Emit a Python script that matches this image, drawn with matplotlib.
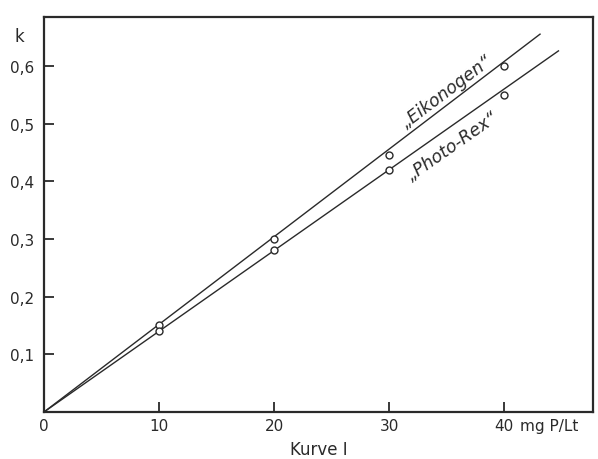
import numpy as np
import matplotlib.pyplot as plt

# Werte
konz = [10, 20, 30, 40]                      # mg P/Lt
k_eikonogen = [0.15, 0.30, 0.445, 0.60]
k_photorex = [0.14, 0.28, 0.42, 0.55]

# Ausgleichsgeraden (vom Ursprung bis zum Linienende)
linie_eik_x = [0, 43.1]
linie_eik_y = [0, 0.655]
linie_rex_x = [0, 44.7]
linie_rex_y = [0, 0.626]

x_ticks = [0, 10, 20, 30, 40]
x_labels = ["0", "10", "20", "30", "40"]
y_ticks = [0.1, 0.2, 0.3, 0.4, 0.5, 0.6]
y_labels = ["0,1", "0,2", "0,3", "0,4", "0,5", "0,6"]

INK = "#2a2a2a"

fig = plt.figure(figsize=(5.98, 4.60), dpi=100)
ax = fig.add_axes([0.0736, 0.1022, 0.918, 0.859])

ax.plot(linie_eik_x, linie_eik_y, color=INK, lw=1.0)
ax.plot(linie_rex_x, linie_rex_y, color=INK, lw=1.0)
ax.plot(konz, k_eikonogen, "o", ms=5, mfc="white", mec=INK, mew=1.0)
ax.plot(konz, k_photorex, "o", ms=5, mfc="white", mec=INK, mew=1.0)

ax.set_xlim(0, 47.7)
ax.set_ylim(0, 0.685)

ax.set_xticks(x_ticks)
ax.set_xticklabels(x_labels)
ax.set_yticks(y_ticks)
ax.set_yticklabels(y_labels)
ax.tick_params(direction="in", length=7, width=1.3, colors=INK,
               labelsize=11, labelcolor=INK)
ax.tick_params(axis="x", pad=4.5)
ax.tick_params(axis="y", pad=7)

# Einheit hinter der letzten Marke
ax.annotate("mg P/Lt", xy=(40, 0), xycoords="data",
            xytext=(11, -4.5), textcoords="offset points",
            ha="left", va="top", fontsize=11, color=INK)

for s in ax.spines.values():
    s.set_linewidth(1.6)
    s.set_color(INK)

ax.text(-0.044, 0.952, "k", transform=ax.transAxes, fontsize=12,
        color=INK, ha="center", va="center")
ax.set_xlabel("Kurve I", fontsize=12, color=INK, labelpad=5)

ax.text(35.0, 0.556, "\u201eEikonogen\u201c", rotation=37, fontsize=12.5,
        style="italic", color=INK, ha="center", va="center")
ax.text(35.5, 0.461, "\u201ePhoto-Rex\u201c", rotation=35, fontsize=12.5,
        style="italic", color=INK, ha="center", va="center")

fig.savefig("out.png", dpi=100)
